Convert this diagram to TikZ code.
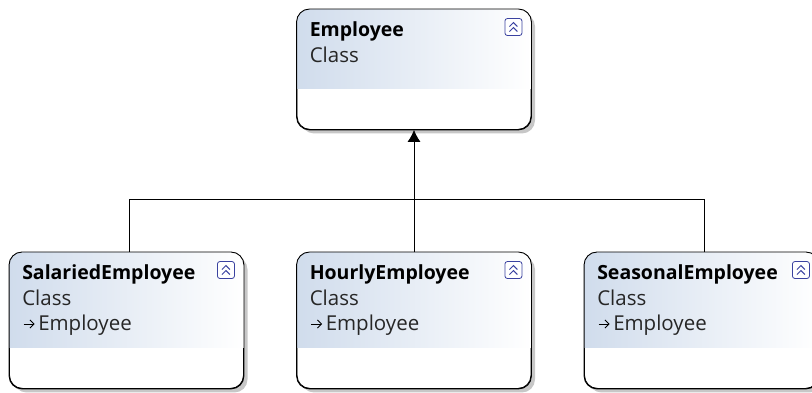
\documentclass[tikz,border=0pt]{standalone}
\usepackage{fontspec}
\setmainfont{Open Sans}
\usetikzlibrary{arrows.meta,calc,shadows}
\definecolor{headblue}{RGB}{208,220,236}
\definecolor{iconblue}{RGB}{58,66,160}
\tikzset{
  classbox/.style={draw=black, line width=0.9pt, fill=white, rounded corners=13pt, minimum width=234pt, inner sep=0pt,
    general shadow={shadow xshift=4pt, shadow yshift=-4pt, fill=black, opacity=0.22}},
  classtext/.style={anchor=base west, inner sep=0pt, font=\fontsize{20.5}{22}\selectfont, text=black!85},
  classtitle/.style={classtext, font=\fontsize{19.5}{22}\selectfont\bfseries, text=black},
  iconbox/.style={draw=iconblue, line width=0.8pt, rounded corners=2.5pt, minimum size=17pt, inner sep=0pt, fill=white},
  inherit/.style={line width=0.8pt, draw=black}
}
% name, centre x, top y, height of box, height of header, title
\newcommand{\classnode}[6]{
  \node[classbox, minimum height=#4pt, anchor=north] (#1) at (#2pt,#3pt) {};
  \begin{scope}
    \clip[rounded corners=13pt] (#1.north west) rectangle (#1.south east);
    \fill[left color=headblue, right color=white] (#1.north west) rectangle ($(#1.north east)+(0,-#5pt)$);
  \end{scope}
  \draw[line width=0.9pt, rounded corners=13pt] (#1.north west) rectangle (#1.south east);
  \node[classtitle] (#1title) at ($(#1.north west)+(13pt,-27pt)$) {#6};
  \node[classtext] (#1kind) at ($(#1title.base west)+(0,-26pt)$) {Class};
  \node[iconbox] (#1icon) at ($(#1.north east)+(-18pt,-18pt)$) {};
  \draw[iconblue, line width=1pt] ($(#1icon.center)+(-4pt,0.5pt)$) -- ($(#1icon.center)+(0,4.5pt)$) -- ($(#1icon.center)+(4pt,0.5pt)$);
  \draw[iconblue, line width=1pt] ($(#1icon.center)+(-4pt,-4.5pt)$) -- ($(#1icon.center)+(0,-0.5pt)$) -- ($(#1icon.center)+(4pt,-4.5pt)$);
}
\newcommand{\parentline}[1]{
  \node[classtext] (#1parent) at ($(#1kind.base west)+(16pt,-25pt)$) {Employee};
  \draw[line width=0.8pt, -{Straight Barb[length=4pt,width=8pt]}] ($(#1kind.base west)+(1.5pt,-19pt)$) -- ++(11pt,0);
}
\begin{document}
\begin{tikzpicture}[x=1pt, y=1pt]
  \useasboundingbox (0,0) rectangle (812,-392);
  \clip (0,0) rectangle (812,-392);
  \classnode{employee}{414}{-9}{120}{79}{Employee}
  \classnode{salaried}{126.5}{-252}{136}{95}{SalariedEmployee}
  \classnode{hourly}{414}{-252}{136}{95}{HourlyEmployee}
  \classnode{seasonal}{701.5}{-252}{136}{95}{SeasonalEmployee}
  \foreach \n in {salaried,hourly,seasonal} { \parentline{\n} }
  % tree of inheritance lines
  \coordinate (junction) at (414,-199);
  \coordinate (leftdrop) at ($(salaried.north)+(2.8,0)$);
  \coordinate (rightdrop) at ($(seasonal.north)+(2.8,0)$);
  \draw[inherit] (leftdrop) |- (junction);
  \draw[inherit] (rightdrop) |- (junction);
  \draw[inherit, -{Latex[length=12pt,width=13pt]}] (hourly.north) -- (employee.south);
\end{tikzpicture}
\end{document}
